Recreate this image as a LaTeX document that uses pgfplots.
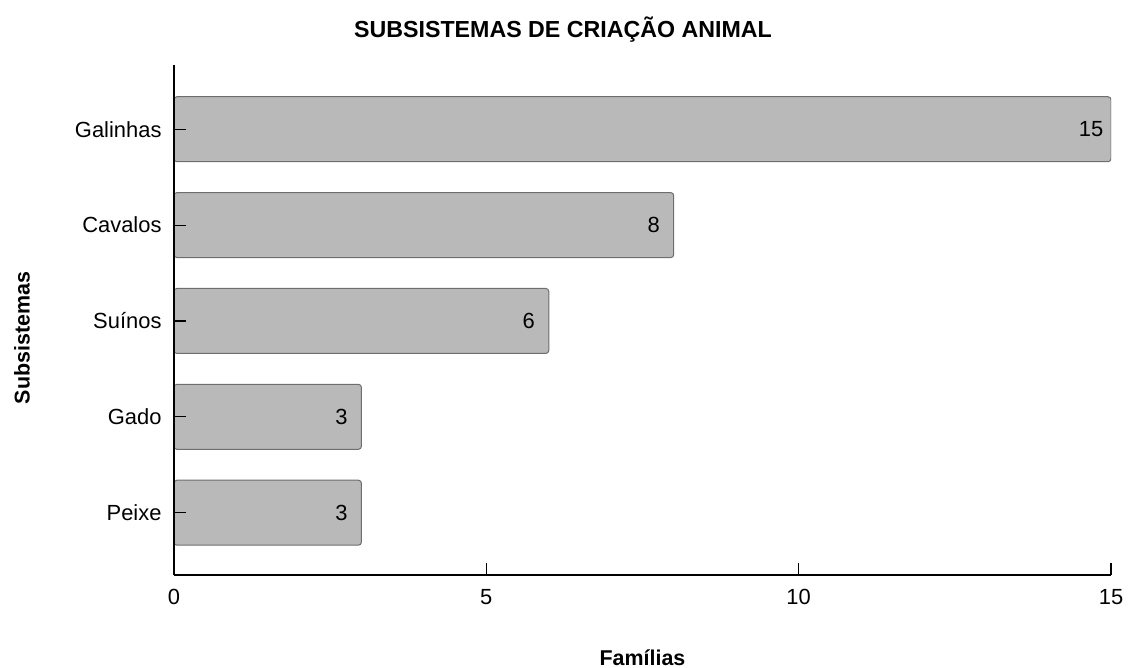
\documentclass[border=0pt]{standalone}
\usepackage{pgfplots}
\pgfplotsset{compat=1.18}
\usepackage{fontspec}
\setmainfont{Liberation Sans}
\definecolor{barfill}{HTML}{B9B9B9}
\definecolor{barline}{HTML}{6E6E6E}
\begin{document}
\begin{tikzpicture}
\useasboundingbox (-174bp,-93bp) rectangle (955bp,575bp);
\begin{axis}[
  scale only axis,
  width=937bp, height=510bp,
  xbar, bar width=65bp,
  xmin=0, xmax=15, ymin=-0.65, ymax=4.67,
  axis lines=left,
  axis line style={line width=1.3bp, black, -},
  axis on top,
  xtick={0,5,10,15},
  ytick={0,1,2,3,4},
  yticklabels={Peixe,Gado,Suínos,Cavalos,Galinhas},
  tick style={line width=1.1bp, black},
  major tick length=12bp,
  tick align=inside,
  ticklabel style={font=\fontsize{22}{26}\selectfont},
  /pgf/number format/assume math mode=true,
  xticklabel style={yshift=-11bp},
  yticklabel style={xshift=-9bp},
  nodes near coords,
  every node near coord/.append style={anchor=center, xshift=-20bp, font=\fontsize{22}{26}\selectfont, text=black},
]
\addplot[fill=barfill, draw=barline, line width=1bp, rounded corners=3bp] coordinates {
  (3,0) (3,1) (6,2) (8,3) (15,4)
};
\end{axis}
\node[font=\bfseries\fontsize{23.3}{27}\selectfont] at (389bp,545bp) {SUBSISTEMAS DE CRIAÇÃO ANIMAL};
\node[font=\bfseries\fontsize{21.5}{25}\selectfont] at (468.5bp,-83bp) {Famílias};
\node[font=\bfseries\fontsize{21.5}{25}\selectfont, rotate=90] at (-152bp,237bp) {Subsistemas};
\end{tikzpicture}
\end{document}
